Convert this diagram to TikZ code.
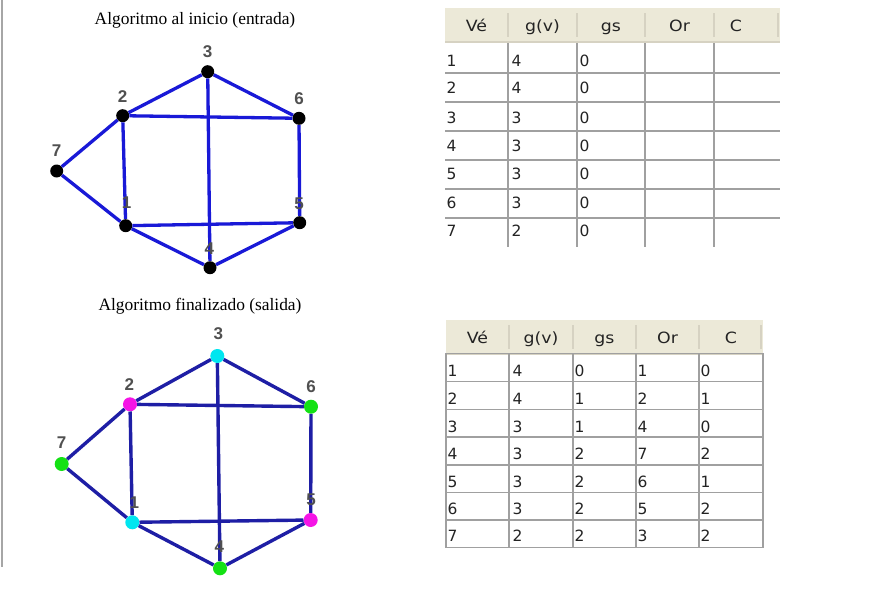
\documentclass[tikz,border=0pt]{standalone}
\usepackage{graphicx}
\usepackage{fontspec}
\setmainfont{Liberation Serif}
\newfontfamily\tabfont{DejaVu Sans}
\newfontfamily\numfont{Liberation Sans}
\definecolor{edgeblueA}{RGB}{25,25,215}
\definecolor{edgeblueB}{RGB}{30,30,165}
\definecolor{hdrbg}{RGB}{236,233,216}
\definecolor{hdrline}{RGB}{214,210,194}
\definecolor{gridgray}{RGB}{160,160,160}
\definecolor{lblgray}{RGB}{80,80,80}
\definecolor{txtdark}{RGB}{35,35,35}
\definecolor{vcyan}{RGB}{0,230,240}
\definecolor{vmag}{RGB}{245,20,230}
\definecolor{vgreen}{RGB}{20,225,20}
\newcommand{\hx}[1]{\scalebox{1.12}[1]{#1}}
\begin{document}
\begin{tikzpicture}[x=1pt,y=-1pt,
  title/.style={font=\fontsize{17.4}{18}\selectfont, inner sep=0},
  lbl/.style={font=\numfont\bfseries\fontsize{17}{17}\selectfont, text=lblgray, inner sep=0},
  dotA/.style={circle, fill=black, inner sep=0, minimum size=13pt},
  dotB/.style={circle, inner sep=0, minimum size=14pt},
  edgeA/.style={draw=edgeblueA, line width=3.3pt},
  edgeB/.style={draw=edgeblueB, line width=3.4pt},
  hdr/.style={font=\tabfont\fontsize{15.5}{16}\selectfont, text=txtdark, inner sep=0, anchor=base},
  cell/.style={font=\tabfont\fontsize{15.5}{16}\selectfont, text=txtdark, inner sep=0, anchor=west},
  grid/.style={draw=gridgray, line width=1.4pt}
]
\useasboundingbox (0,0) rectangle (879,600);
\fill[white] (0,0) rectangle (879,600);
% left gray rule
\draw[draw=gray!70, line width=2pt] (2,0) -- (2,567);

% ---------- Graph 1 ----------
\node[title] (t1) at (195,20.5) {Algoritmo al inicio (entrada)};
\node[dotA] (a3) at (207.7,71.7) {};
\node[dotA] (a2) at (122.7,115.7) {};
\node[dotA] (a6) at (299,118.3) {};
\node[dotA] (a7) at (56.7,171) {};
\node[dotA] (a1) at (125.7,225.7) {};
\node[dotA] (a5) at (299.7,222.7) {};
\node[dotA] (a4) at (210,267.7) {};
\foreach \u/\v in {a2/a3,a3/a6,a2/a6,a2/a7,a2/a1,a7/a1,a1/a5,a1/a4,a4/a5,a5/a6,a3/a4}
  \draw[edgeA] (\u) -- (\v);
\node[lbl] (la3) at (207.7,51.5) {3};
\node[lbl] (la2) at (122.7,96.5) {2};
\node[lbl] (la6) at (299,99) {6};
\node[lbl] (la7) at (56.7,150.5) {7};
\node[lbl] (la1) at (126.7,203) {1};
\node[lbl] (la5) at (299,204) {5};
\node[lbl] (la4) at (209.3,248.3) {4};

% ---------- Graph 2 ----------
\node[title] (t2) at (200,306.5) {Algoritmo finalizado (salida)};
\node[dotB, fill=vcyan] (b3) at (217.3,356) {};
\node[dotB, fill=vmag] (b2) at (130,404.3) {};
\node[dotB, fill=vgreen] (b6) at (311,406.7) {};
\node[dotB, fill=vgreen] (b7) at (61.7,464) {};
\node[dotB, fill=vcyan] (b1) at (132.3,522.3) {};
\node[dotB, fill=vmag] (b5) at (310.7,520) {};
\node[dotB, fill=vgreen] (b4) at (220,568.3) {};
\foreach \u/\v in {b2/b3,b3/b6,b2/b6,b2/b7,b2/b1,b7/b1,b1/b5,b1/b4,b4/b5,b5/b6,b3/b4}
  \draw[edgeB] (\u) -- (\v);
\node[lbl] (lb3) at (218.3,333.3) {3};
\node[lbl] (lb2) at (129.3,384.3) {2};
\node[lbl] (lb6) at (311,386.7) {6};
\node[lbl] (lb7) at (61.7,442.3) {7};
\node[lbl] (lb1) at (134.3,502.3) {1};
\node[lbl] (lb5) at (311,500) {5};
\node[lbl] (lb4) at (219.3,546.7) {4};

% ---------- Table 1 ----------
\fill[hdrbg] (445,8) rectangle (780,42);
\draw[draw=hdrline, line width=2pt] (445,42) -- (780,42);
\foreach \x in {508,577,645,714,778}
  \draw[draw=hdrline, line width=1.3pt] (\x,13) -- (\x,37);
\foreach \c/\x in {V\'e/476.5,g(v)/542.5,gs/611,Or/679.5,C/736}
  \node[hdr] at (\x,31.5) {\hx{\c}};
\foreach \y in {73,102,131,160,189,218}
  \draw[grid] (445,\y) -- (780,\y);
\foreach \x in {508,577,645,714}
  \draw[grid] (\x,43) -- (\x,247);
\foreach \r/\a/\b/\y in {1/4/0/61,2/4/0/88,3/3/0/117.5,4/3/0/145.5,5/3/0/174,6/3/0/203,7/2/0/231}{
  \node[cell] at (446.5,\y) {\r};
  \node[cell] at (511.5,\y) {\a};
  \node[cell] at (579.5,\y) {\b};
}

% ---------- Table 2 ----------
\fill[hdrbg] (446,320) rectangle (763,353.5);
\draw[draw=hdrline, line width=2pt] (446,353.5) -- (763,353.5);
\foreach \x in {509,573,636,699,761}
  \draw[draw=hdrline, line width=1.3pt] (\x,325) -- (\x,349);
\foreach \c/\x in {V\'e/477.5,g(v)/541,gs/604.5,Or/667.5,C/731}
  \node[hdr] at (\x,343.5) {\hx{\c}};
\draw[grid] (446,353.5) rectangle (763,547.5);
\foreach \y in {381.5,409.5,437,465,492.5,520}
  \draw[grid] (446,\y) -- (763,\y);
\foreach \x in {509,573,636,699}
  \draw[grid] (\x,353.5) -- (\x,547.5);
\foreach \r/\a/\b/\o/\k/\y in {1/4/0/1/0/371,2/4/1/2/1/398.5,3/3/1/4/0/427,4/3/2/7/2/454,5/3/2/6/1/482,6/3/2/5/2/509,7/2/2/3/2/536}{
  \node[cell] at (447.5,\y) {\r};
  \node[cell] at (512.5,\y) {\a};
  \node[cell] at (574.5,\y) {\b};
  \node[cell] at (637.5,\y) {\o};
  \node[cell] at (700.5,\y) {\k};
}
\end{tikzpicture}
\end{document}
